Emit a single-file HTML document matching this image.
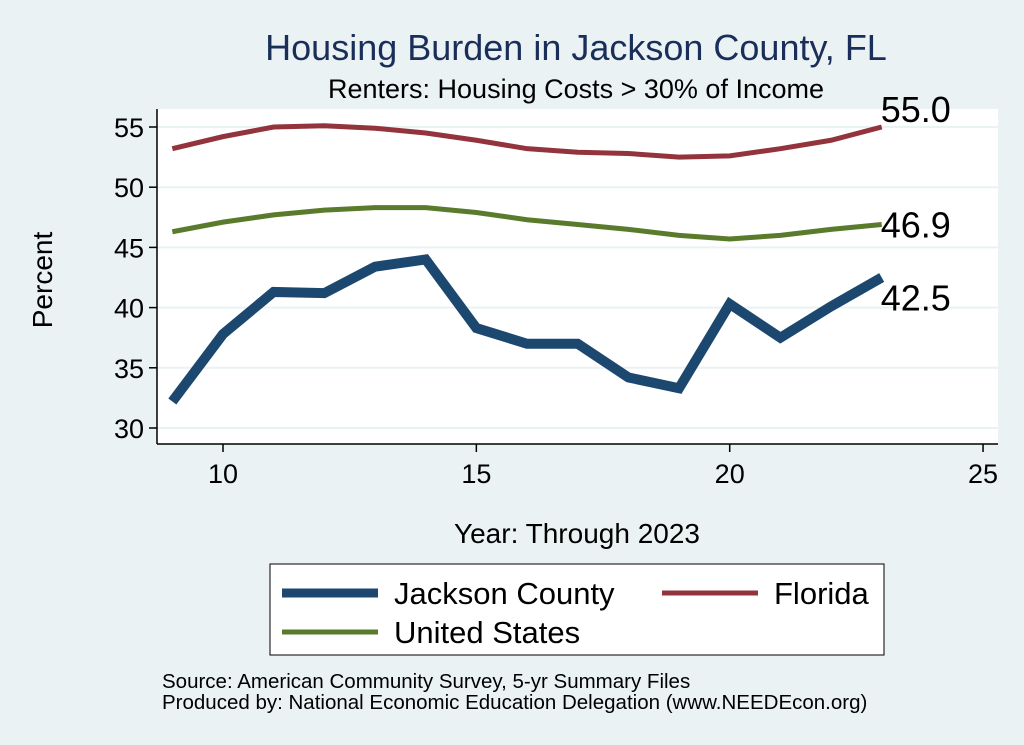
<!DOCTYPE html>
<html><head><meta charset="utf-8"><style>
body{margin:0;background:#eaf2f3;}
svg{display:block;font-family:"Liberation Sans",sans-serif;}
</style></head><body>
<svg id="c" width="1024" height="745">
<rect x="0" y="0" width="1024" height="745" fill="#eaf2f3"/>
<rect x="157" y="109" width="841" height="335" fill="#fff"/>
<text x="576" y="60" font-size="36" fill="#1a2e5a" text-anchor="middle">Housing Burden in Jackson County, FL</text>
<text x="576" y="98" font-size="27" text-anchor="middle">Renters: Housing Costs &gt; 30% of Income</text>
<g id="grid"></g><g id="axes"></g><g id="series"></g>
<text x="52" y="280" font-size="28" text-anchor="middle" transform="rotate(-90 52 280)">Percent</text>
<text x="577" y="543" font-size="28" text-anchor="middle">Year: Through 2023</text>
<g>
<rect x="270" y="564" width="614" height="91" fill="#fff" stroke="#000" stroke-width="1"/>
<line x1="282" y1="593" x2="378" y2="593" stroke="#1c4870" stroke-width="9"/>
<text x="394" y="604" font-size="31">Jackson County</text>
<line x1="662" y1="593" x2="758" y2="593" stroke="#93343c" stroke-width="5"/>
<text x="774" y="604" font-size="31">Florida</text>
<line x1="282" y1="632" x2="378" y2="632" stroke="#5a7b2b" stroke-width="5"/>
<text x="394" y="643" font-size="31">United States</text>
</g>
<text x="162" y="688" font-size="20.5">Source: American Community Survey, 5-yr Summary Files</text>
<text x="162" y="709" font-size="20.5">Produced by: National Economic Education Delegation (www.NEEDEcon.org)</text>
</svg>
<script>
const years=[9,10,11,12,13,14,15,16,17,18,19,20,21,22,23];
const jackson=[32.2,37.8,41.3,41.2,43.4,44.0,38.3,37.0,37.0,34.2,33.3,40.3,37.5,40.1,42.5];
const florida=[53.2,54.2,55.0,55.1,54.9,54.5,53.9,53.2,52.9,52.8,52.5,52.6,53.2,53.9,55.0];
const us=[46.3,47.1,47.7,48.1,48.3,48.3,47.9,47.3,46.9,46.5,46.0,45.7,46.0,46.5,46.9];
const yTicks=[30,35,40,45,50,55];
const xTicks=[10,15,20,25];
const NS="http://www.w3.org/2000/svg";
function X(v){return 223+(v-10)*50.67;}
function Y(v){return 428-(v-30)*12.04;}
function mk(t,a,p){const e=document.createElementNS(NS,t);for(const k in a)e.setAttribute(k,a[k]);p.appendChild(e);return e;}
const g=document.getElementById('grid'),ax=document.getElementById('axes'),s=document.getElementById('series');
yTicks.forEach(t=>{
const l=mk('line',{x1:157,x2:998,y1:Y(t),y2:Y(t),stroke:'#eaf2f3','stroke-width':2},g);


mk('line',{x1:149,x2:157,y1:Y(t),y2:Y(t),stroke:'#000','stroke-width':1.5},ax);
const tx=mk('text',{x:144,y:Y(t)+10,'font-size':27,'text-anchor':'end'},ax);tx.textContent=t;


});
xTicks.forEach(t=>{
mk('line',{x1:X(t),x2:X(t),y1:444,y2:452,stroke:'#000','stroke-width':1.5},ax);
const tx=mk('text',{x:X(t),y:483,'font-size':27,'text-anchor':'middle'},ax);tx.textContent=t;


});
mk('line',{x1:157,x2:157,y1:109,y2:444,stroke:'#000','stroke-width':1.5},ax);
mk('line',{x1:157,x2:998,y1:444,y2:444,stroke:'#000','stroke-width':1.5},ax);
function series(d,c,w,name){
const p=mk('polyline',{points:years.map((y,i)=>X(y)+','+Y(d[i])).join(' '),fill:'none',stroke:c,'stroke-width':w,'stroke-linejoin':'miter'},s);


}
series(florida,'#93343c',5,'line-florida');
series(us,'#5a7b2b',5,'line-us');
series(jackson,'#1c4870',10,'line-jackson');
function lab(v,dx,dy,name){const n=years.length-1;const t=mk('text',{x:X(years[n])+dx,y:Y(v)+dy,'font-size':36},s);t.textContent=v.toFixed(1);

}
lab(florida[14],-1,-5,'label-florida');
lab(us[14],-1,13,'label-us');
lab(jackson[14],-1,33,'label-jackson');
</script>
</body></html>
